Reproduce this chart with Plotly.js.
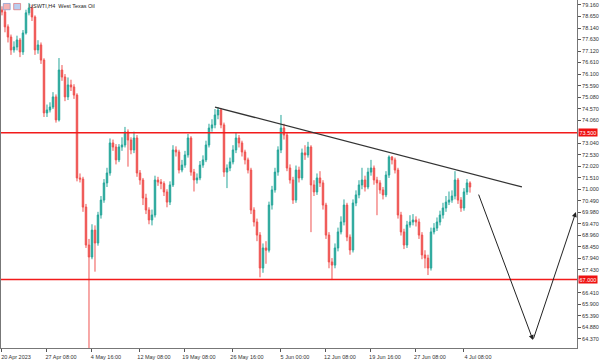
<!DOCTYPE html>
<html>
<head>
<meta charset="utf-8">
<script src="https://cdn.plot.ly/plotly-3.0.1.min.js"></script>
<style>html,body{margin:0;padding:0;background:#fff;}#chart{width:602px;height:361px;}</style>
</head>
<body>
<div id="chart"></div>
<script>
// USWTI H4 candles (approximately one candle per 8 hours of the original chart)
const openP = [78.94,78.85,78.19,77.74,77.17,77.30,77.61,77.08,77.92,78.81,79.03,78.63,77.17,77.39,76.72,74.38,74.51,74.64,75.09,74.07,
76.28,75.97,75.09,75.62,75.53,75.17,71.50,71.45,70.21,68.53,68.00,69.19,68.62,69.86,70.52,71.28,71.72,73.05,72.87,72.30,
72.87,72.96,73.54,73.18,72.74,73.27,71.72,71.41,70.61,70.08,69.64,69.86,71.41,71.32,71.25,70.88,70.43,71.19,72.74,72.65,
71.85,72.07,72.52,73.27,71.76,71.41,71.50,72.07,72.30,72.96,73.71,73.85,74.29,74.51,73.85,71.76,71.94,72.21,72.74,73.27,
73.05,72.65,72.30,71.85,70.08,69.55,68.97,67.51,68.40,68.30,70.30,70.97,71.76,72.74,73.71,73.40,71.94,71.41,70.52,71.85,
71.50,72.61,72.52,72.87,71.19,70.88,71.50,71.28,70.30,68.97,67.78,67.64,68.40,69.11,69.55,70.30,68.88,68.31,70.39,70.75,
71.19,71.41,71.10,71.76,71.94,71.41,71.28,70.97,70.75,71.63,72.43,72.30,71.85,69.86,69.11,68.53,69.42,69.55,69.64,69.55,
68.97,68.09,67.95,67.51,69.11,69.28,69.55,69.86,70.17,70.43,70.52,70.70,71.41,70.52,70.17,70.88,71.28];
const highP = [79.10,78.95,78.30,77.85,77.55,77.80,77.70,78.05,78.95,79.25,79.15,78.70,77.60,77.50,76.80,74.75,74.85,75.30,75.20,76.81,
76.50,76.10,75.95,75.85,75.65,75.25,71.70,71.55,70.35,68.80,69.45,69.40,70.00,70.70,71.45,71.95,73.25,73.20,73.00,73.00,
73.30,73.76,73.65,73.30,73.55,73.40,71.85,71.50,70.80,70.20,70.10,71.60,71.55,71.45,71.35,71.00,71.35,72.95,72.90,72.75,
72.30,72.70,73.45,73.35,71.90,71.70,72.25,72.50,73.15,73.90,74.10,74.55,74.64,74.60,73.95,72.10,72.40,72.95,73.50,73.40,
73.15,72.75,72.40,71.95,70.20,69.70,69.10,68.60,68.70,70.45,71.15,71.95,72.90,74.29,73.90,73.50,72.10,71.55,72.05,72.00,
72.80,72.95,73.10,72.95,71.40,71.70,71.80,71.40,70.40,69.10,67.95,68.60,69.30,69.80,70.55,70.40,69.00,70.55,70.95,71.40,
71.95,71.60,71.95,72.30,72.05,71.55,71.40,71.10,71.80,72.50,72.47,72.40,71.95,70.00,69.25,69.60,69.85,69.90,69.80,69.70,
69.10,68.30,68.10,69.30,69.50,69.75,70.05,70.40,70.70,70.90,70.95,71.80,71.50,70.65,71.05,71.45,71.35];
const lowP = [78.70,77.95,77.50,76.95,77.05,77.15,76.85,76.95,77.85,78.70,78.45,76.95,77.00,76.55,74.20,74.20,74.40,74.55,73.95,74.00,
75.80,74.90,74.95,75.35,75.00,71.35,71.30,70.00,68.40,63.50,67.90,67.35,68.50,69.70,70.40,71.10,71.60,72.70,72.10,72.20,
72.70,72.85,72.00,72.55,72.60,71.55,71.20,70.30,69.90,69.45,69.40,69.75,71.15,71.00,70.70,70.20,70.30,71.10,72.45,71.70,
71.75,71.95,72.40,71.60,70.90,71.25,71.40,71.95,72.20,72.85,73.55,73.70,74.10,73.70,71.55,71.05,71.80,72.10,72.60,72.85,
72.45,72.10,71.70,69.90,69.35,68.70,67.10,67.30,67.70,68.20,70.10,70.85,71.60,72.60,73.20,71.80,71.25,70.35,70.40,71.30,
71.40,72.30,72.40,69.10,70.70,70.75,71.10,70.10,68.80,67.50,66.98,67.50,68.25,69.00,69.40,68.70,68.10,68.20,70.25,70.60,
71.00,70.90,71.00,71.60,71.20,69.85,70.80,70.55,70.65,71.50,72.10,71.70,69.70,68.95,68.35,68.40,69.30,69.40,69.35,68.80,
67.90,67.50,67.20,67.40,69.00,69.15,69.40,69.70,70.00,70.30,70.40,70.55,70.35,70.00,70.05,70.75,70.85];
const closeP = [78.85,78.19,77.74,77.17,77.30,77.61,77.08,77.92,78.81,79.03,78.63,77.17,77.39,76.72,74.38,74.51,74.64,75.09,74.07,76.28,
75.97,75.09,75.62,75.53,75.17,71.50,71.45,70.21,68.53,68.00,69.19,68.62,69.86,70.52,71.28,71.72,73.05,72.87,72.30,72.87,
72.96,73.54,73.18,72.74,73.27,71.72,71.41,70.61,70.08,69.64,69.86,71.41,71.32,71.25,70.88,70.43,71.19,72.74,72.65,71.85,
72.07,72.52,73.27,71.76,71.41,71.50,72.07,72.30,72.96,73.71,73.85,74.29,74.51,73.85,71.76,71.94,72.21,72.74,73.27,73.05,
72.65,72.30,71.85,70.08,69.55,68.97,67.51,68.40,68.30,70.30,70.97,71.76,72.74,73.71,73.40,71.94,71.41,70.52,71.85,71.50,
72.61,72.52,72.87,71.19,70.88,71.50,71.28,70.30,68.97,67.78,67.64,68.40,69.11,69.55,70.30,68.88,68.31,70.39,70.75,71.19,
71.41,71.10,71.76,71.94,71.41,71.28,70.97,70.75,71.63,72.43,72.30,71.85,69.86,69.11,68.53,69.42,69.55,69.64,69.55,68.97,
68.09,67.95,67.51,69.11,69.28,69.55,69.86,70.17,70.43,70.52,70.70,71.41,70.52,70.17,70.88,71.28,71.10];

// time-axis labels and the candle each one belongs to
const tickBars = [0,15,30,46,61,77,93,108,123,138,154];
const tickLabels = ['20 Apr 2023','27 Apr 08:00','4 May 16:00','12 May 08:00','19 May 08:00','26 May 16:00','5 Jun 00:00','12 Jun 08:00','19 Jun 16:00','27 Jun 08:00','4 Jul 08:00'];

// price-axis labels
const priceTicks = [79.16,78.65,78.14,77.63,77.12,76.61,76.10,75.59,75.08,74.57,74.06,73.04,72.53,72.02,71.51,71.00,70.49,69.98,69.47,68.96,68.45,67.94,67.43,66.41,65.90,65.39,64.88,64.37];
const levelPrices = [73.50, 67.00];

// drawn analysis: trendline and projected path (bar index, price)
const trendBars = [71, 173.3];
const trendPrices = [74.64, 71.10];
const pathBars = [158.7, 177, 191.3];
const pathPrices = [70.83, 64.32, 69.99];

const bars = closeP.map((_, i) => i);
const font = 'Liberation Sans, Arial, sans-serif';

const trace = {
  type: 'candlestick', x: bars, open: openP, high: highP, low: lowP, close: closeP,
  increasing: {line: {color: '#26a69a', width: 1}, fillcolor: '#26a69a'},
  decreasing: {line: {color: '#ef5350', width: 1}, fillcolor: '#ef5350'},
  whiskerwidth: 0, hoverinfo: 'skip', showlegend: false
};

const shapes = [];
levelPrices.forEach(p => shapes.push({type: 'line', xref: 'paper', yref: 'y', x0: 0, x1: 1, y0: p, y1: p, line: {color: '#f21b1b', width: 1.5}}));
shapes.push({type: 'line', xref: 'x', yref: 'y', x0: trendBars[0], x1: trendBars[1], y0: trendPrices[0], y1: trendPrices[1], line: {color: '#333333', width: 1.3}});
// small header icons
shapes.push({type: 'rect', xref: 'paper', yref: 'paper', x0: 0.004, x1: 0.016, y0: 0.972, y1: 0.99, fillcolor: '#f6b3b3', line: {color: '#6a8fd0', width: 0.6}});
shapes.push({type: 'rect', xref: 'paper', yref: 'paper', x0: 0.022, x1: 0.034, y0: 0.972, y1: 0.99, fillcolor: '#b9cdf0', line: {color: '#e05a5a', width: 0.6}});

const annotations = [];
levelPrices.forEach(p => annotations.push({
  xref: 'paper', yref: 'y', x: 1, y: p, xanchor: 'left', yanchor: 'middle', xshift: 1,
  text: p.toFixed(3), showarrow: false, bgcolor: '#ee1111', borderpad: 0.5,
  font: {family: font, size: 5.5, color: '#ffffff'}
}));
for (let k = 1; k < pathBars.length; k++) {
  annotations.push({
    xref: 'x', yref: 'y', axref: 'x', ayref: 'y',
    x: pathBars[k], y: pathPrices[k], ax: pathBars[k-1], ay: pathPrices[k-1],
    text: '', showarrow: true, arrowhead: 2, arrowsize: 1, arrowwidth: 1, arrowcolor: '#222222'
  });
}
annotations.push({
  xref: 'paper', yref: 'paper', x: 0.042, y: 0.982, xanchor: 'left', yanchor: 'middle', xshift: 2,
  text: 'USWTI,H4  West Texas Oil', showarrow: false, font: {family: font, size: 5.5, color: '#222'}
});

const layout = {
  width: 602, height: 361,
  margin: {l: 1, r: 25, t: 0, b: 13, pad: 0},
  paper_bgcolor: '#ffffff', plot_bgcolor: '#ffffff',
  showlegend: false,
  xaxis: {
    type: 'linear', range: [-0.33, 191.67], rangeslider: {visible: false},
    showgrid: false, zeroline: false, showline: true, linecolor: '#777', linewidth: 1,
    tickmode: 'array', tickvals: tickBars, ticktext: tickLabels,
    ticks: 'outside', ticklen: 3, tickcolor: '#555', ticklabelshift: 14,
    tickfont: {family: font, size: 5.5, color: '#333'}, fixedrange: true
  },
  yaxis: {
    side: 'right', range: [63.97, 79.38],
    showgrid: false, zeroline: false, showline: true, mirror: true, linecolor: '#777', linewidth: 1,
    tickmode: 'array', tickvals: priceTicks, ticktext: priceTicks.map(v => v.toFixed(3)),
    ticks: 'outside', ticklen: 3, tickcolor: '#555',
    tickfont: {family: font, size: 5.5, color: '#333'}, fixedrange: true
  },
  shapes: shapes,
  annotations: annotations
};

Plotly.newPlot('chart', [trace], layout, {staticPlot: true, displayModeBar: false});
</script>
</body>
</html>
